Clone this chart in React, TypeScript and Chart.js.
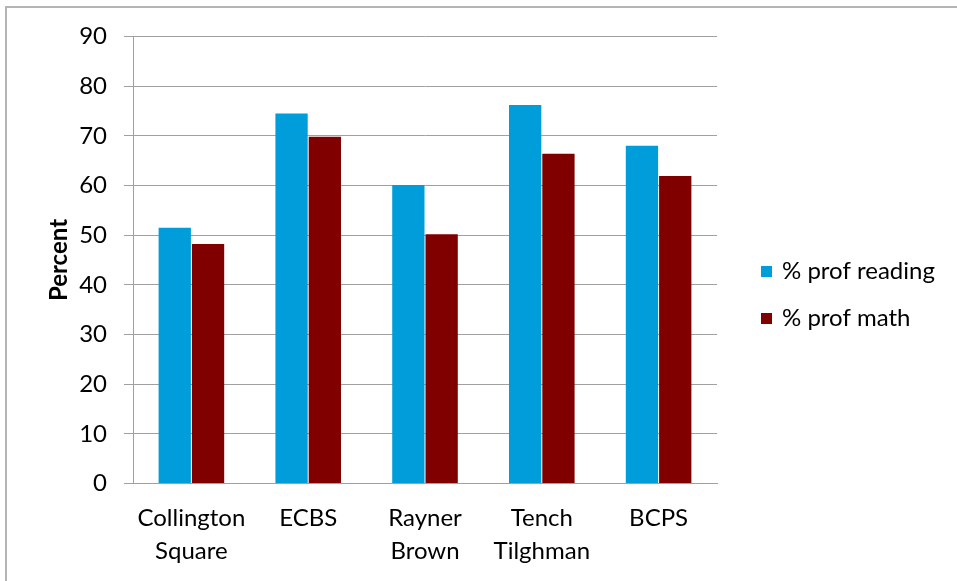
import { useEffect, useRef } from 'react';
import { Chart, registerables } from 'chart.js';

Chart.register(...registerables);

const categories: (string | string[])[] = [
  ['Collington', 'Square'],
  'ECBS',
  ['Rayner', 'Brown'],
  ['Tench', 'Tilghman'],
  'BCPS',
];
const readingValues = [51.5, 74.5, 60.1, 76.2, 68.0];
const mathValues = [48.2, 69.8, 50.2, 66.4, 61.9];
const seriesNames = ['% prof reading', '% prof math'];
const seriesColors = ['#009DDB', '#800000'];
const yMin = 0;
const yMax = 90;
const yStep = 10;
const yTitle = 'Percent';

const FONT = 'Lato';
const GRID = '#a0a0a0';

const sideLegend = {
  id: 'sideLegend',
  afterDraw(chart: any) {
    const { ctx, chartArea } = chart;
    const x0 = chartArea.right + 44;
    const y0 = chartArea.top + 235;
    ctx.save();
    chart.data.datasets.forEach((ds: any, i: number) => {
      const cy = y0 + i * 47;
      ctx.fillStyle = ds.backgroundColor;
      ctx.fillRect(x0, cy - 5.5, 11, 11);
      ctx.fillStyle = '#000';
      ctx.font = `24px ${FONT}`;
      ctx.textBaseline = 'middle';
      ctx.textAlign = 'left';
      ctx.fillText(ds.label, x0 + 21, cy);
    });
    ctx.restore();
  },
};

export default function App() {
  const ref = useRef<HTMLCanvasElement>(null);

  useEffect(() => {
    if (!ref.current) return;
    const chart = new Chart(ref.current, {
      type: 'bar',
      data: {
        labels: categories,
        datasets: [
          { label: seriesNames[0], data: readingValues, backgroundColor: seriesColors[0] },
          { label: seriesNames[1], data: mathValues, backgroundColor: seriesColors[1] },
        ],
      },
      plugins: [sideLegend],
      options: {
        responsive: false,
        animation: false,
        devicePixelRatio: 1,
        layout: { padding: { left: 0, top: 36.5, right: 240, bottom: 0 } },
        datasets: { bar: { categoryPercentage: 0.57, barPercentage: 0.97 } },
        plugins: { legend: { display: false }, tooltip: { enabled: false } },
        scales: {
          x: {
            grid: { display: false, drawTicks: false },
            border: { display: true, color: GRID },
            ticks: {
              color: '#000',
              font: { family: FONT, size: 24, lineHeight: 1.35 },
              padding: 19,
              maxRotation: 0,
              autoSkip: false,
            },
            afterFit(scale: any) {
              scale.height = 97.5;
            },
          },
          y: {
            min: yMin,
            max: yMax,
            grid: { color: GRID, tickLength: 9, drawTicks: true },
            border: { display: true, color: GRID },
            ticks: {
              stepSize: yStep,
              color: '#000',
              font: { family: FONT, size: 24 },
              padding: 17,
            },
            title: {
              display: true,
              text: yTitle,
              color: '#000',
              font: { family: FONT, size: 24, weight: 'bold', lineHeight: 1.2 },
              padding: { top: 45, bottom: 0 },
            },
            afterFit(scale: any) {
              scale.width = 133;
            },
          },
        },
      },
    });
    return () => chart.destroy();
  }, []);

  return (
    <div
      style={{
        position: 'fixed',
        left: 0,
        top: 0,
        width: 957,
        height: 581,
        overflow: 'hidden',
        background: '#fff',
      }}
    >
      <div
        style={{
          position: 'absolute',
          left: 5,
          top: 6,
          width: 2000,
          height: 2000,
          borderTop: '2px solid #b4b4b4',
          borderLeft: '2px solid #b4b4b4',
        }}
      />
      <canvas
        ref={ref}
        width={957}
        height={581}
        style={{ position: 'absolute', left: 0, top: 0, width: 957, height: 581 }}
      />
    </div>
  );
}
